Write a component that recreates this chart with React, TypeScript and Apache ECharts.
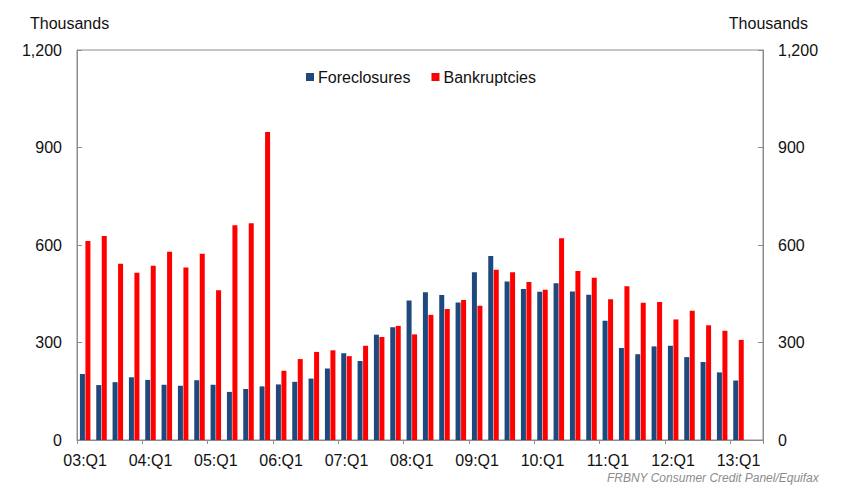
import React, { useEffect, useRef } from "react";
import * as echarts from "echarts";

const categories = [
  "03:Q1", "03:Q2", "03:Q3", "03:Q4",
  "04:Q1", "04:Q2", "04:Q3", "04:Q4",
  "05:Q1", "05:Q2", "05:Q3", "05:Q4",
  "06:Q1", "06:Q2", "06:Q3", "06:Q4",
  "07:Q1", "07:Q2", "07:Q3", "07:Q4",
  "08:Q1", "08:Q2", "08:Q3", "08:Q4",
  "09:Q1", "09:Q2", "09:Q3", "09:Q4",
  "10:Q1", "10:Q2", "10:Q3", "10:Q4",
  "11:Q1", "11:Q2", "11:Q3", "11:Q4",
  "12:Q1", "12:Q2", "12:Q3", "12:Q4",
  "13:Q1", "13:Q2",
];

const foreclosures = [
  203, 169, 178, 193, 185, 170, 167, 184, 170, 148, 157, 165,
  171, 179, 189, 220, 267, 243, 324, 347, 429, 455, 446, 423,
  516, 566, 488, 465, 456, 482, 457, 447, 367, 283, 264, 288,
  290, 255, 240, 208, 183, null,
];

const bankruptcies = [
  612, 628, 542, 515, 536, 579, 531, 573, 461, 661, 667, 948,
  213, 249, 271, 276, 258, 290, 317, 351, 325, 385, 403, 431,
  413, 524, 516, 486, 462, 621, 520, 499, 433, 473, 422, 425,
  371, 398, 353, 336, 308, null,
];

const yTicks = { min: 0, max: 1200, interval: 300 };
const unitLabel = "Thousands";
const sourceNote = "FRBNY Consumer Credit Panel/Equifax";

const FONT = "'Liberation Sans', Arial, sans-serif";

export default function App() {
  const ref = useRef<HTMLDivElement>(null);
  useEffect(() => {
    if (!ref.current) return;
    const chart = echarts.init(ref.current, null, { renderer: "svg" });
    const fmt = (v: number) => v.toLocaleString("en-US");
    const yAxisBase = {
      type: "value",
      min: yTicks.min,
      max: yTicks.max,
      interval: yTicks.interval,
      splitLine: { show: false },
      axisLine: { show: true, lineStyle: { color: "#8c8c8c", width: 1 } },
      axisTick: { show: true, inside: true, length: 5, lineStyle: { color: "#8c8c8c" } },
      axisLabel: { color: "#111", fontSize: 16, fontFamily: FONT, margin: 15, formatter: fmt },
    };
    chart.setOption({
      animation: false,
      backgroundColor: "#fff",
      textStyle: { fontFamily: FONT },
      grid: {
        left: 77,
        right: 95,
        top: 50,
        bottom: 62,
        show: true,
        borderColor: "#8c8c8c",
        borderWidth: 1,
        backgroundColor: "transparent",
      },
      legend: {
        top: 64,
        left: 301,
        itemWidth: 8,
        itemHeight: 8,
        itemGap: 21,
        icon: "rect",
        textStyle: { fontSize: 16, color: "#111", fontFamily: FONT, padding: [0, 0, 0, -1] },
        data: ["Foreclosures", "Bankruptcies"],
      },
      xAxis: {
        type: "category",
        data: categories,
        boundaryGap: true,
        axisLine: { show: true, lineStyle: { color: "#8c8c8c", width: 1 } },
        axisTick: { show: true, interval: 3, length: 4, lineStyle: { color: "#8c8c8c" } },
        axisLabel: { interval: 3, color: "#111", fontSize: 16, fontFamily: FONT, margin: 12 },
      },
      yAxis: [
        { ...yAxisBase, position: "left" },
        { ...yAxisBase, position: "right" },
      ],
      series: [
        {
          name: "Foreclosures",
          type: "bar",
          yAxisIndex: 0,
          data: foreclosures,
          barWidth: 5,
          barGap: "10%",
          itemStyle: { color: "#1F497D" },
        },
        {
          name: "Bankruptcies",
          type: "bar",
          yAxisIndex: 0,
          data: bankruptcies,
          barWidth: 5,
          barGap: "10%",
          itemStyle: { color: "#FF0000" },
        },
      ],
      graphic: [
        {
          type: "text",
          left: 30,
          top: 15,
          style: { text: unitLabel, fontSize: 16, fill: "#111", fontFamily: FONT },
        },
        {
          type: "text",
          right: 50,
          top: 15,
          style: { text: unitLabel, fontSize: 16, fill: "#111", fontFamily: FONT },
        },
        {
          type: "text",
          right: 39,
          top: 472,
          style: {
            text: sourceNote,
            fontSize: 12,
            fontStyle: "italic",
            fill: "#8c8c8c",
            fontFamily: FONT,
          },
        },
      ],
    });
    return () => chart.dispose();
  }, []);
  return <div ref={ref} style={{ width: 858, height: 502, margin: -8 }} />;
}
